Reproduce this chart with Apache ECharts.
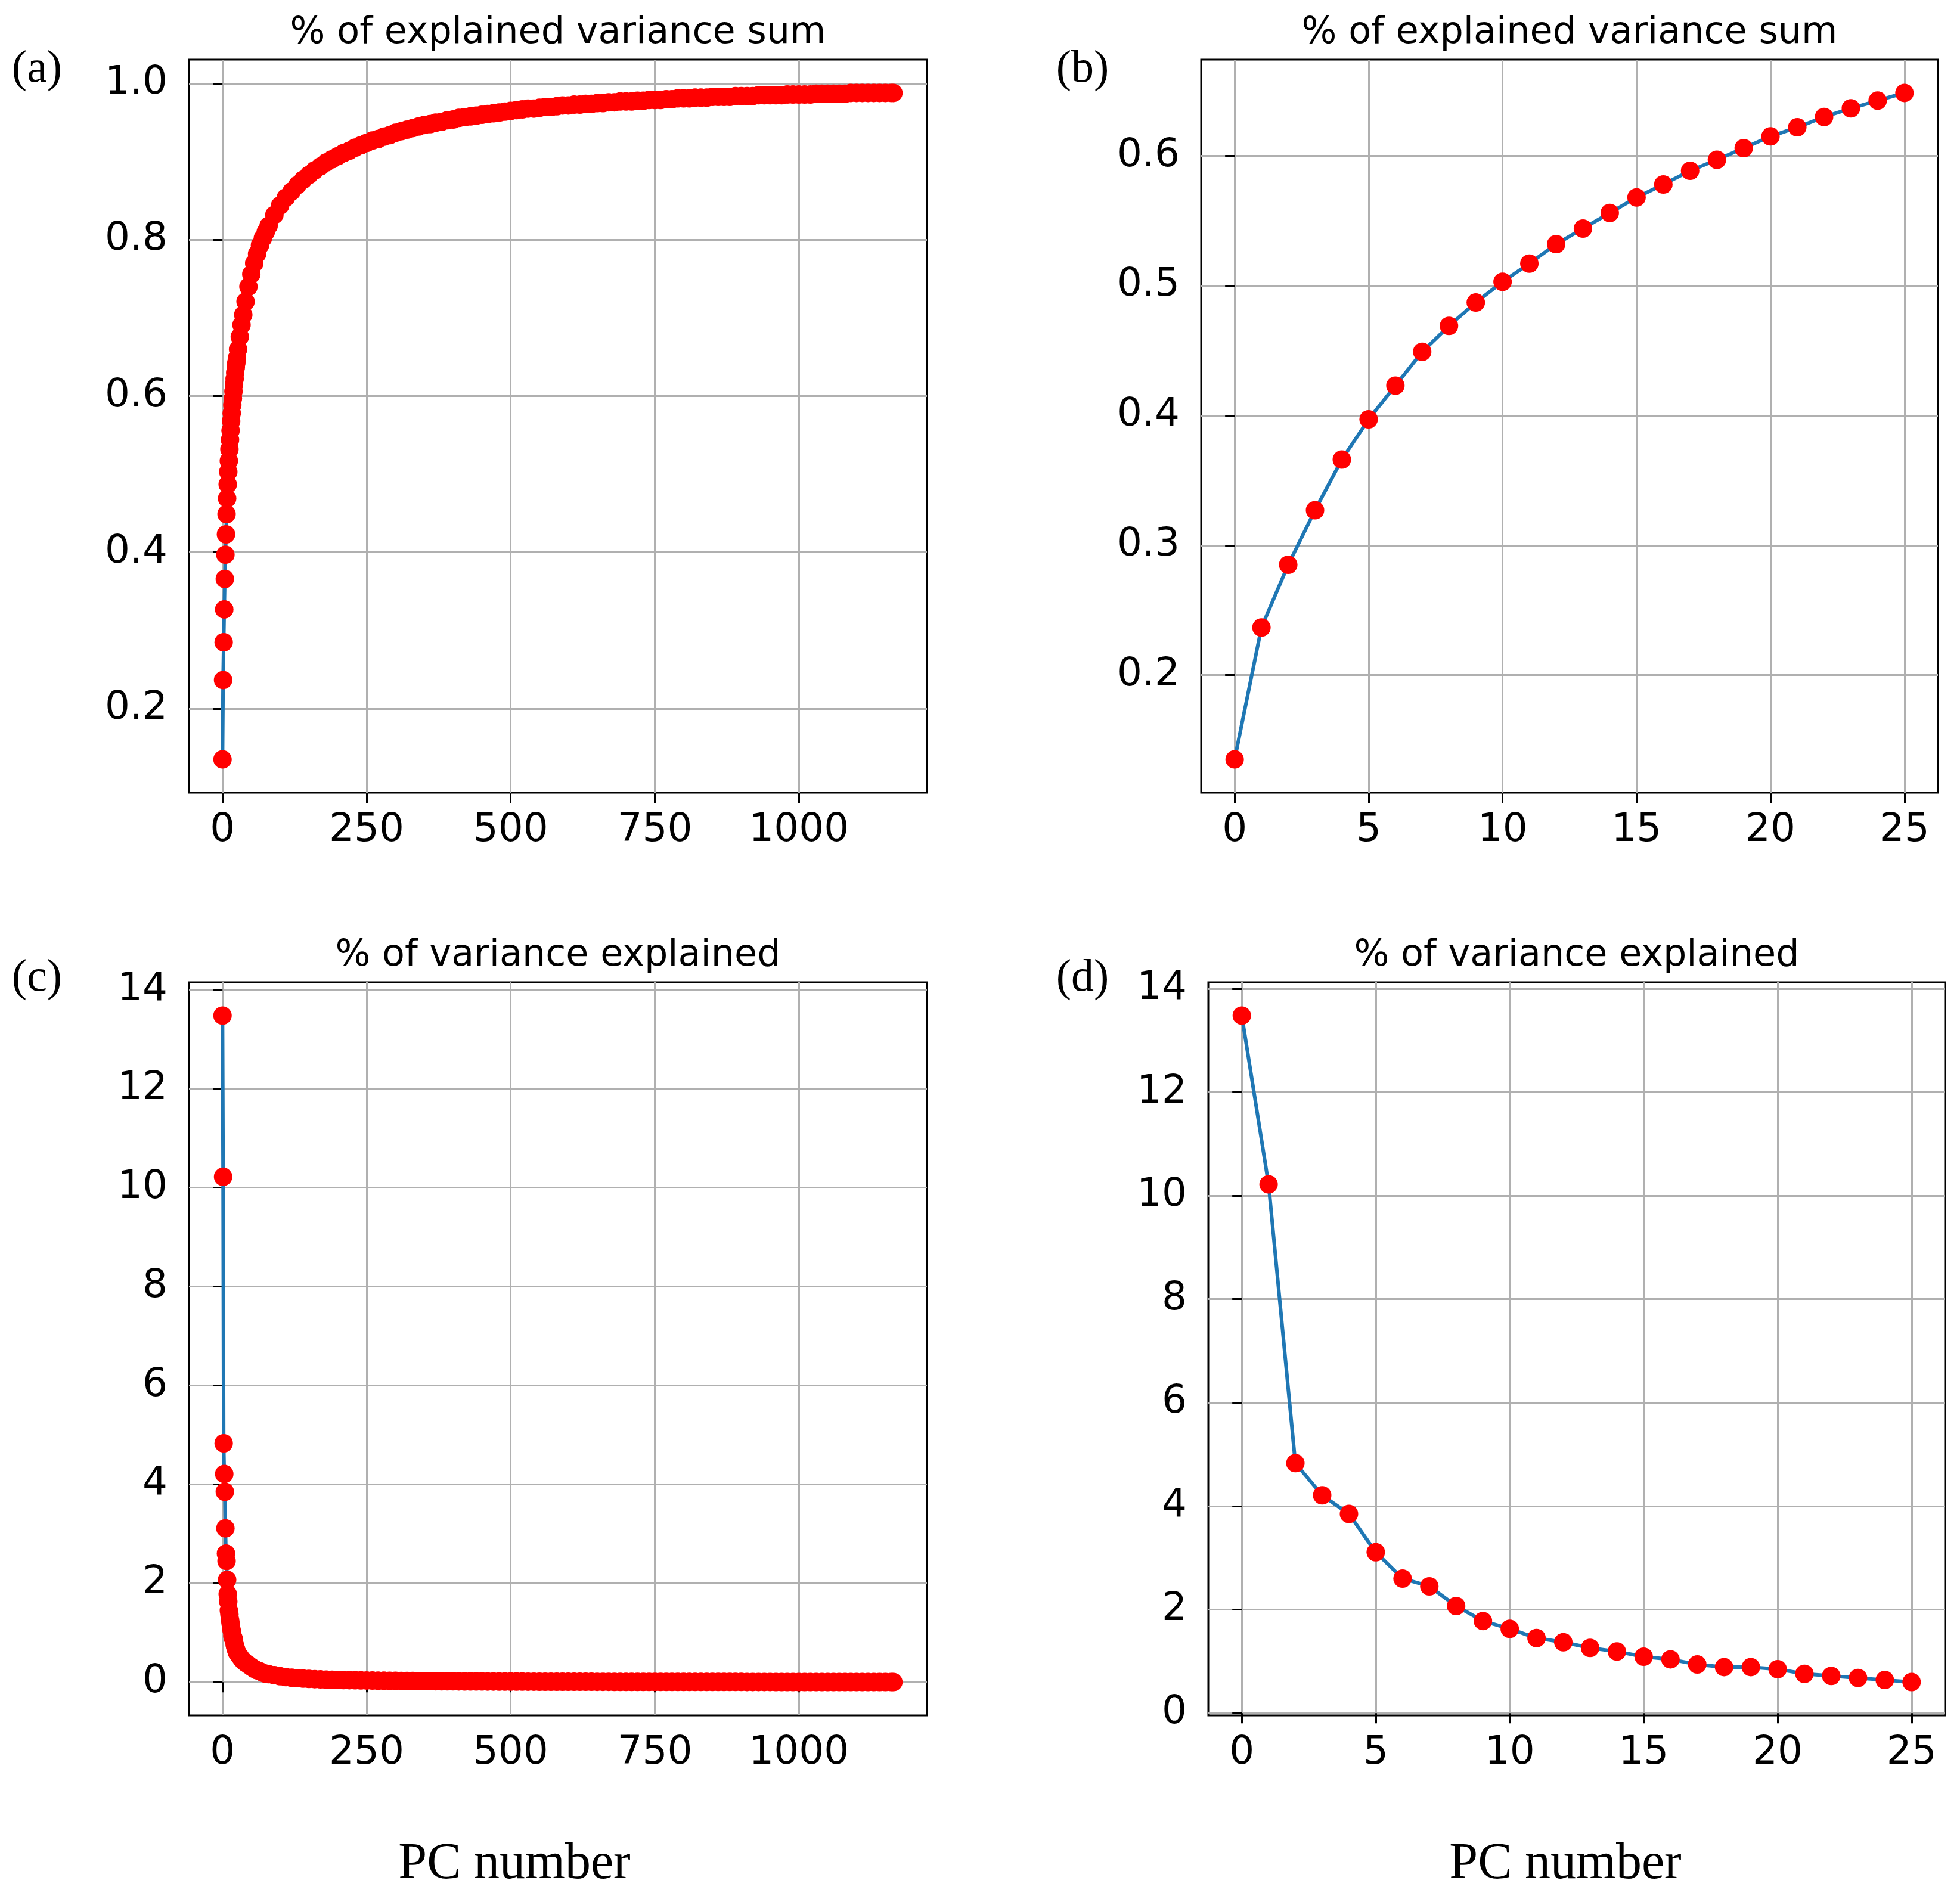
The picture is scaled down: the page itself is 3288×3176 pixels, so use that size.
<!DOCTYPE html>
<html>
<head>
<meta charset="utf-8">
<script src="https://cdn.jsdelivr.net/npm/echarts@6.0.0/dist/echarts.min.js"></script>
<style>
html,body{margin:0;padding:0;background:#fff;}
#chart{width:3288px;height:3176px;}
</style>
</head>
<body>
<div id="chart"></div>
<script>
// ---- data ----
const pcHead = [0,1,2,3,4,5,6,7,8,9,10,11,12,13,14,15,16,17,18,19,20,21,22,23,24,25];
const cumHead = [0.135,0.2366,0.285,0.327,0.366,0.397,0.423,0.449,0.469,0.487,0.503,0.517,0.532,0.544,0.556,0.568,0.578,0.5885,0.597,0.606,0.615,0.622,0.630,0.6366,0.6426,0.6485];
const varHead = [13.48,10.22,4.83,4.21,3.85,3.11,2.60,2.45,2.07,1.78,1.63,1.45,1.37,1.26,1.19,1.09,1.04,0.94,0.89,0.89,0.85,0.76,0.72,0.68,0.64,0.60];

const pcTail = [27,30,33,36,40,45,50,55,60,65,70,75,
  80,90,100,110,120,130,140,150,160,170,
  180,190,200,210,220,230,240,250,260,270,
  280,290,300,310,320,330,340,350,360,370,
  380,390,400,410,420,430,440,450,460,470,
  480,490,500,510,520,530,540,550,560,570,
  580,590,600,610,620,630,640,650,660,670,
  680,690,700,710,720,730,740,750,760,770,
  780,790,800,810,820,830,840,850,860,870,
  880,890,900,910,920,930,940,950,960,970,
  980,990,1000,1010,1020,1030,1040,1050,1060,1070,
  1080,1090,1100,1110,1120,1130,1140,1150,1160,1164];
const cumTail = [0.660,0.676,0.691,0.704,0.721,0.740,0.756,0.770,0.782,0.793,0.802,0.810,
  0.818,0.832,0.844,0.854,0.862,0.870,0.877,0.883,0.889,0.894,
  0.899,0.903,0.907,0.911,0.914,0.918,0.921,0.924,0.927,0.929,
  0.932,0.934,0.937,0.939,0.941,0.943,0.945,0.947,0.948,0.950,
  0.951,0.953,0.954,0.956,0.957,0.958,0.959,0.960,0.961,0.962,
  0.963,0.964,0.965,0.966,0.967,0.968,0.968,0.969,0.970,0.970,
  0.971,0.972,0.972,0.973,0.973,0.974,0.974,0.975,0.975,0.976,
  0.976,0.977,0.977,0.977,0.978,0.978,0.979,0.979,0.979,0.980,
  0.980,0.981,0.981,0.981,0.982,0.982,0.982,0.983,0.983,0.983,
  0.983,0.984,0.984,0.984,0.984,0.985,0.985,0.985,0.985,0.985,
  0.986,0.986,0.986,0.986,0.986,0.987,0.987,0.987,0.987,0.987,
  0.987,0.988,0.988,0.988,0.988,0.988,0.988,0.988,0.988,0.988];
const varTail = [0.57,0.52,0.47,0.43,0.39,0.35,0.31,0.27,0.24,0.22,0.19,0.17,
  0.16,0.14,0.12,0.10,0.09,0.08,0.07,0.065,0.06,0.055,
  0.05,0.047,0.044,0.041,0.039,0.037,0.035,0.033,0.031,0.029,
  0.028,0.026,0.025,0.024,0.023,0.022,0.021,0.020,0.019,0.018,
  0.017,0.016,0.016,0.015,0.014,0.014,0.013,0.013,0.012,0.012,
  0.011,0.011,0.010,0.010,0.0095,0.009,0.009,0.0085,0.008,0.008,
  0.0075,0.0075,0.007,0.007,0.0068,0.0066,0.0064,0.0062,0.006,0.0058,
  0.0056,0.0055,0.0054,0.0052,0.0051,0.005,0.0049,0.0048,0.0047,0.0046,
  0.0045,0.0044,0.0043,0.0042,0.0041,0.004,0.0039,0.0038,0.0037,0.0036,
  0.0035,0.0034,0.0033,0.0032,0.0031,0.003,0.0029,0.0028,0.0027,0.0026,
  0.0025,0.0024,0.0023,0.0022,0.0021,0.002,0.0019,0.0018,0.0017,0.0016,
  0.0015,0.0014,0.0013,0.0012,0.0011,0.001,0.0009,0.0008,0.0007,0.0006];

const ticksPcFull = [0,250,500,750,1000];
const ticksPcZoom = [0,5,10,15,20,25];
const ticksCumFull = [0.2,0.4,0.6,0.8,1.0];
const ticksCumZoom = [0.2,0.3,0.4,0.5,0.6];
const ticksVar = [0,2,4,6,8,10,12,14];

const titleSum = '% of explained variance sum';
const titleVar = '% of variance explained';
const xLabel = 'PC number';
const panelTags = ['(a)','(b)','(c)','(d)'];

// ---- build ----
const pairs = (xs, ys) => xs.map((x, i) => [x, ys[i]]);
const fullCum = pairs(pcHead, cumHead).concat(pairs(pcTail, cumTail));
const zoomCum = pairs(pcHead, cumHead);
const fullVar = pairs(pcHead, varHead).concat(pairs(pcTail, varTail));
const zoomVar = pairs(pcHead, varHead);

function ext(arr, k) {
  let lo = Infinity, hi = -Infinity;
  arr.forEach(p => { lo = Math.min(lo, p[k]); hi = Math.max(hi, p[k]); });
  const m = (hi - lo) * 0.05;
  return [lo - m, hi + m];
}

const grids = [
  {left: 317, top: 100, width: 1238, height: 1230},
  {left: 2015, top: 100, width: 1236, height: 1230},
  {left: 317, top: 1648, width: 1238, height: 1230},
  {left: 2027, top: 1648, width: 1236, height: 1230}
];
const datasets = [fullCum, zoomCum, fullVar, zoomVar];
const xTicks = [ticksPcFull, ticksPcZoom, ticksPcFull, ticksPcZoom];
const yTicks = [ticksCumFull, ticksCumZoom, ticksVar, ticksVar];
const yFmt = [v => v.toFixed(1), v => v.toFixed(1), v => String(Math.round(v)), v => String(Math.round(v))];

const tickFont = {fontSize: 66, fontFamily: 'DejaVu Sans', color: '#000'};
const gridLine = {show: true, lineStyle: {color: '#b0b0b0', width: 3}};

const xAxes = [], yAxes = [], series = [];
datasets.forEach((d, i) => {
  const xe = ext(d, 0), ye = ext(d, 1);
  xAxes.push({
    type: 'value', gridIndex: i, min: xe[0], max: xe[1],
    axisLine: {show: false},
    axisTick: {show: true, inside: false, length: 17, lineStyle: {color: '#000', width: 3}, customValues: xTicks[i]},
    axisLabel: Object.assign({margin: 31, customValues: xTicks[i], formatter: v => String(Math.round(v))}, tickFont),
    splitLine: gridLine
  });
  yAxes.push({
    type: 'value', gridIndex: i, min: ye[0], max: ye[1],
    axisLine: {show: false},
    axisTick: {show: true, inside: false, length: 16, lineStyle: {color: '#000', width: 3}, customValues: yTicks[i]},
    axisLabel: Object.assign({margin: 36, customValues: yTicks[i], formatter: yFmt[i]}, tickFont),
    splitLine: gridLine
  });
  series.push({
    type: 'line', xAxisIndex: i, yAxisIndex: i, data: d,
    symbol: 'circle', symbolSize: 31, showSymbol: true,
    lineStyle: {color: '#1f77b4', width: 6},
    itemStyle: {color: '#ff0000'},
    emphasis: {disabled: true},
    clip: false
  });
});

const texts = [];
function txt(str, x, y, size, family) {
  texts.push({type: 'text', x: x, y: y, z: 100, silent: true,
    style: {text: str, fill: '#000', fontSize: size, fontFamily: family, align: 'center', verticalAlign: 'middle'}});
}
txt(titleSum, 936, 56, 62, 'DejaVu Sans');
txt(titleSum, 2633, 56, 62, 'DejaVu Sans');
txt(titleVar, 936, 1604, 62, 'DejaVu Sans');
txt(titleVar, 2645, 1604, 62, 'DejaVu Sans');
txt(panelTags[0], 62, 117, 76, 'Liberation Serif');
txt(panelTags[1], 1816, 117, 76, 'Liberation Serif');
txt(panelTags[2], 62, 1642, 76, 'Liberation Serif');
txt(panelTags[3], 1816, 1642, 76, 'Liberation Serif');
txt(xLabel, 863, 3128, 86, 'Liberation Serif');
txt(xLabel, 2626, 3128, 86, 'Liberation Serif');

const chart = echarts.init(document.getElementById('chart'), null, {renderer: 'canvas', width: 3288, height: 3176});
chart.setOption({
  animation: false,
  backgroundColor: '#fff',
  grid: grids.map(g => Object.assign({show: true, borderColor: '#000', borderWidth: 3, backgroundColor: 'transparent', containLabel: false}, g)),
  xAxis: xAxes,
  yAxis: yAxes,
  series: series,
  graphic: texts
});
</script>
</body>
</html>
